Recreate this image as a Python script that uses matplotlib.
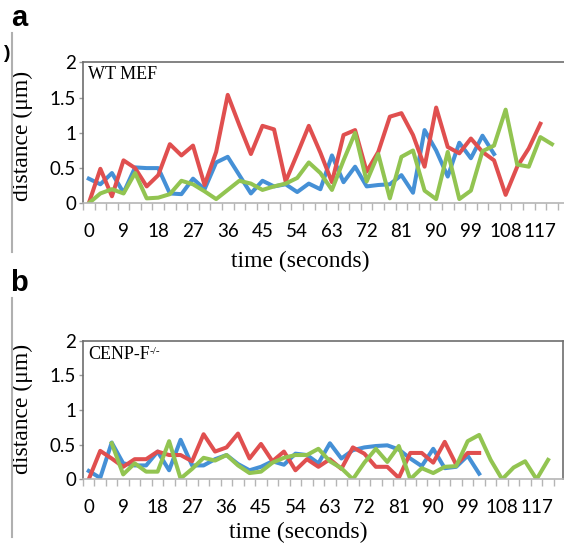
import numpy as np
import matplotlib
matplotlib.use("Agg")
from matplotlib import pyplot as plt

# time points every 3 s, labelled every 9 s
times = np.arange(0, 123, 3)
tick_labels = [str(t) for t in range(0, 118, 9)]
y_ticks = [0, 0.5, 1, 1.5, 2]
y_labels = ["0", "0.5", "1", "1.5", "2"]

# panel a: WT MEF
wt_blue = [0.35, 0.27, 0.43, 0.15, 0.51, 0.50, 0.50, 0.14, 0.13, 0.35, 0.20, 0.58, 0.66, 0.40,
           0.14, 0.32, 0.24, 0.27, 0.16, 0.28, 0.20, 0.68, 0.30, 0.52, 0.24, 0.26, 0.27, 0.40,
           0.15, 1.04, 0.75, 0.38, 0.86, 0.64, 0.96, 0.70]
wt_red = [0.00, 0.49, 0.10, 0.61, 0.50, 0.24, 0.40, 0.84, 0.68, 0.82, 0.26, 0.73, 1.54, 1.11,
          0.70, 1.10, 1.05, 0.31, 0.70, 1.10, 0.72, 0.30, 0.97, 1.04, 0.45, 0.73, 1.23, 1.28,
          0.97, 0.52, 1.36, 0.80, 0.71, 0.92, 0.73, 0.61, 0.12, 0.52, 0.78, 1.13]
wt_green = [0.00, 0.14, 0.20, 0.14, 0.43, 0.07, 0.08, 0.13, 0.32, 0.27, 0.17, 0.06, 0.19, 0.32,
            0.28, 0.19, 0.24, 0.28, 0.36, 0.58, 0.43, 0.19, 0.61, 1.00, 0.31, 0.70, 0.07, 0.66,
            0.75, 0.18, 0.06, 0.73, 0.06, 0.18, 0.74, 0.82, 1.33, 0.55, 0.52, 0.94, 0.84]

# panel b: CENP-F knockout
ko_blue = [0.12, 0.02, 0.53, 0.23, 0.20, 0.20, 0.40, 0.13, 0.57, 0.20, 0.20, 0.29, 0.35, 0.22,
           0.13, 0.18, 0.26, 0.21, 0.37, 0.35, 0.23, 0.52, 0.30, 0.42, 0.46, 0.48, 0.49, 0.43,
           0.30, 0.19, 0.44, 0.16, 0.18, 0.34, 0.08]
ko_red = [0.00, 0.41, 0.30, 0.18, 0.29, 0.29, 0.40, 0.35, 0.35, 0.26, 0.65, 0.40, 0.46, 0.66,
          0.30, 0.51, 0.26, 0.40, 0.13, 0.29, 0.18, 0.29, 0.15, 0.46, 0.37, 0.18, 0.18, 0.02,
          0.38, 0.38, 0.24, 0.54, 0.21, 0.38, 0.38]
ko_green = [np.nan, np.nan, 0.52, 0.07, 0.23, 0.11, 0.11, 0.55, 0.01, 0.15, 0.31, 0.27, 0.35,
            0.20, 0.09, 0.11, 0.24, 0.31, 0.35, 0.35, 0.44, 0.26, 0.16, 0.00, 0.24, 0.44, 0.25,
            0.48, 0.00, 0.16, 0.09, 0.18, 0.19, 0.55, 0.64, 0.28, 0.00, 0.17, 0.26, 0.00, 0.28]

BLUE = "#4590d6"
RED = "#e04f4f"
GREEN = "#92c451"

serif = "Liberation Serif"
sans = "Lato"

fig = plt.figure(figsize=(5.64, 5.48), dpi=100)
ax_a = fig.add_axes([83 / 564, 0.629, 484 / 564, 0.257])
ax_b = fig.add_axes([83 / 564, 0.1254, 480 / 564, 0.2529])


def draw_panel(ax, series, ylab_y, xlab_y):
    for vals, col in series:
        idx = np.arange(len(vals))
        ax.plot(idx, vals, color=col, lw=2.9)
    ax.set_xlim(-0.5, 41.3)
    ax.set_ylim(0, 2)
    ax.set_yticks(y_ticks)
    ax.set_yticklabels(y_labels, family=sans, fontsize=13.5)
    ax.set_xticks(np.arange(0, 40, 3))
    ax.set_xticklabels(tick_labels, family=sans, fontsize=13.5)
    ax.set_xticks(np.arange(-0.5, 41, 1), minor=True)
    ax.tick_params(axis="x", which="major", length=0, pad=14)
    ax.tick_params(axis="x", which="minor", length=5, width=1, color="#b5b5b5", direction="out")
    ax.tick_params(axis="y", length=3, width=1, color="#9a9a9a", pad=2)
    for s in ["left", "top", "right"]:
        ax.spines[s].set_color("#6e6e6e")
        ax.spines[s].set_linewidth(1.2)
    ax.spines["bottom"].set_color("#b5b5b5")
    ax.spines["bottom"].set_linewidth(1.2)
    ax.text(-0.126, ylab_y, "distance (μm)", transform=ax.transAxes, rotation=90,
            ha="center", va="center", family=serif, fontsize=17)
    ax.text(0.448, xlab_y, "time (seconds)", transform=ax.transAxes,
            ha="center", va="center", family=serif, fontsize=17)
    return ax


draw_panel(ax_a, [(wt_blue, BLUE), (wt_red, RED), (wt_green, GREEN)], 0.477, -0.416)
ax_a.text(0.011, 0.915, "WT MEF", transform=ax_a.transAxes, ha="left", va="center",
          family=serif, fontsize=13)

draw_panel(ax_b, [(ko_blue, BLUE), (ko_red, RED), (ko_green, GREEN)], 0.51, -0.387)
t_ko = ax_b.text(0.011, 0.9, "CENP-F", transform=ax_b.transAxes, ha="left", va="center",
                 family=serif, fontsize=13)
ax_b.annotate("-/-", xy=(1.0, 0.95), xycoords=t_ko, ha="left", va="top",
              family=serif, fontsize=8)

# panel letters and the grey margin rules
fig.text(19 / 564, 1 - 18 / 548, "a", ha="center", va="center", family="Liberation Sans",
         fontweight="bold", fontsize=21)
fig.text(19 / 564, 1 - 283 / 548, "b", ha="center", va="center", family="Liberation Sans",
         fontweight="bold", fontsize=21)
fig.text(4 / 564, 1 - 54 / 548, ")", ha="left", va="center", family="Liberation Sans",
         fontweight="bold", fontsize=14)
fig.add_artist(plt.Line2D([12 / 564, 12 / 564], [1 - 33 / 548, 1 - 252 / 548],
                          color="#b0b0b0", lw=1.5))
fig.add_artist(plt.Line2D([12 / 564, 12 / 564], [1 - 298 / 548, 1 - 537 / 548],
                          color="#b0b0b0", lw=1.5))

fig.savefig("out.png", dpi=100)
